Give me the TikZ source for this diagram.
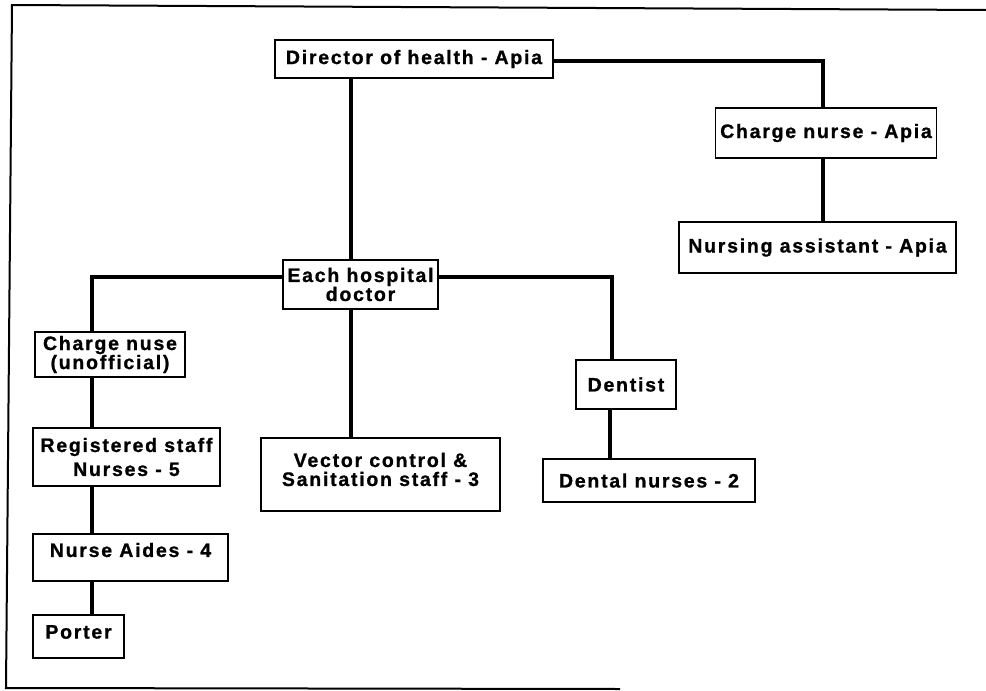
\documentclass[tikz,border=0pt]{standalone}
\usepackage{fontspec}
\newfontfamily\orgfont{Liberation Sans}[LetterSpace=9, BoldFeatures={FakeBold=1}]
\begin{document}
\begin{tikzpicture}[x=1pt,y=-1pt,
  box/.style={draw, line width=1.7pt, inner sep=0pt, align=center,
    font=\orgfont\bfseries\fontsize{19.5}{18}\selectfont},
  link/.style={line width=3.2pt, line join=miter},
  frame/.style={line width=2pt}]
\useasboundingbox (0,0) rectangle (986,691);
% frame
\coordinate (ftl) at (12,5);
\coordinate (ftr) at (986,10);
\coordinate (fbl) at (6,688);
\coordinate (fbr) at (620,689);
\draw[frame] (ftr) -- (ftl) -- (fbl) -- (fbr);
% nodes
\node[box, minimum width=278, minimum height=38] (dir) at (414,59) {Director of health - Apia};
\node[box, minimum width=221, minimum height=50] (cna) at (826,133) {Charge nurse - Apia};
\node[box, minimum width=277, minimum height=51] (naa) at (817.5,247.5) {Nursing assistant - Apia};
\node[box, minimum width=155, minimum height=49, font=\orgfont\bfseries\fontsize{19.5}{19}\selectfont] (ehd) at (360.5,284.5) {Each hospital\\doctor};
\node[box, minimum width=150, minimum height=45, font=\orgfont\bfseries\fontsize{19.5}{19}\selectfont] (cnu) at (110,354.5) {Charge nuse\\(unofficial)};
\node[box, minimum width=187, minimum height=58, font=\orgfont\bfseries\fontsize{19.5}{24}\selectfont] (reg) at (126.5,457) {Registered staff\\Nurses - 5};
\node[box, minimum width=195, minimum height=47, label={[font=\orgfont\bfseries\fontsize{19.5}{18}\selectfont, yshift=7.5pt]center:Nurse Aides - 4}] (aid) at (130.5,557.5) {};
\node[box, minimum width=91, minimum height=43, label={[font=\orgfont\bfseries\fontsize{19.5}{18}\selectfont, yshift=4.5pt]center:Porter}] (por) at (78.5,636.5) {};
\node[box, minimum width=239, minimum height=73, label={[font=\orgfont\bfseries\fontsize{19.5}{19}\selectfont, align=center, yshift=5pt]center:Vector control \&\\Sanitation staff - 3}] (vec) at (380.5,474.5) {};
\node[box, minimum width=100, minimum height=49] (den) at (626,384.5) {Dentist};
\node[box, minimum width=212, minimum height=43] (dnu) at (649,480.5) {Dental nurses - 2};
% connector columns / rows
\coordinate (cx1) at (351,0);
\coordinate (cx2) at (823,0);
\coordinate (cx3) at (92,0);
\coordinate (cx4) at (612,0);
\coordinate (cx5) at (610,0);
\coordinate (ry1) at (0,61);
\coordinate (ry2) at (0,277);
% connectors
\draw[link] (dir.east |- ry1) -| (cna.north -| cx2);
\draw[link] (cna.south -| cx2) -- (naa.north -| cx2);
\draw[link] (dir.south -| cx1) -- (ehd.north -| cx1);
\draw[link] (ehd.west |- ry2) -| (cnu.north -| cx3);
\draw[link] (ehd.east |- ry2) -| (den.north -| cx4);
\draw[link] (ehd.south -| cx1) -- (vec.north -| cx1);
\draw[link] (cnu.south -| cx3) -- (reg.north -| cx3);
\draw[link] (reg.south -| cx3) -- (aid.north -| cx3);
\draw[link] (aid.south -| cx3) -- (por.north -| cx3);
\draw[link] (den.south -| cx5) -- (dnu.north -| cx5);
\end{tikzpicture}
\end{document}
